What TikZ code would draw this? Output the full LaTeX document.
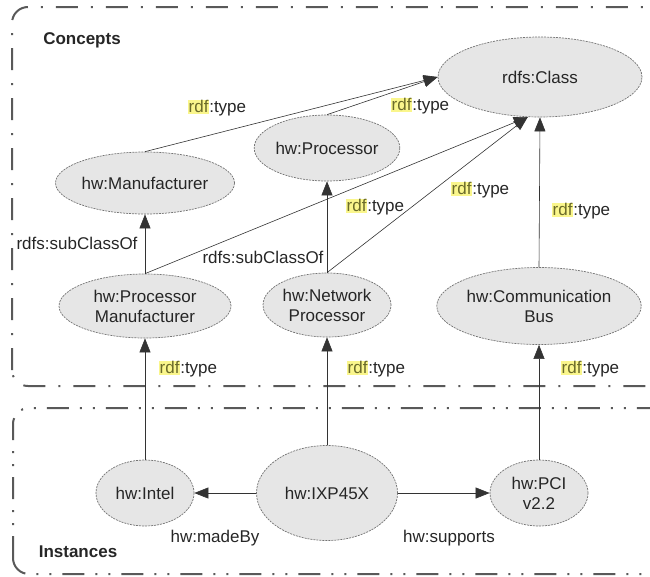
\documentclass[tikz,border=0pt]{standalone}
\usepackage{fontspec}
\setmainfont{Liberation Sans}
\usetikzlibrary{arrows.meta,shapes.geometric}

\definecolor{rdfhl}{HTML}{FAF68C}
\definecolor{rdftxt}{HTML}{6B6B2A}
\definecolor{nodefill}{HTML}{E6E6E6}
% highlighted namespace prefix
\newcommand{\rdfname}{{\setlength{\fboxsep}{0.8pt}\colorbox{rdfhl}{\textcolor{rdftxt}{rdf}}}}

\begin{document}
\begin{tikzpicture}[x=1pt, y=-1pt,
  every node/.style={font=\fontsize{17}{20}\selectfont, text=black!85},
  concept/.style={ellipse, draw=black!55, dash pattern=on 2pt off 1pt,
                  line width=0.7pt, fill=nodefill, inner sep=0pt, align=center},
  rel/.style={draw=black!80, line width=0.6pt, -{Triangle[length=14pt,width=11pt]}},
  lbl/.style={inner sep=0pt},
  boxline/.style={draw=black!65, line width=2pt, rounded corners=16pt}]
  \useasboundingbox (0,0) rectangle (650,576);

  % the two layers
  \draw[boxline, dash pattern=on 22pt off 13pt on 2pt off 13pt] (12,386) rectangle (668,7);
  \draw[boxline, dash pattern=on 22pt off 11pt on 2pt off 11pt on 2pt off 11pt] (13,574) rectangle (668,408);
  \node[font=\fontsize{17}{20}\selectfont\bfseries] (concepts) at (82,40) {Concepts};
  \node[font=\fontsize{17}{20}\selectfont\bfseries] (instances) at (78,552) {Instances};

  % classes
  \node[concept, minimum width=204pt, minimum height=80pt] (cls) at (540,77) {rdfs:Class};
  \node[concept, minimum width=140pt, minimum height=66pt] (proc) at (327,148) {hw:Processor};
  \node[concept, minimum width=174pt, minimum height=62pt] (man) at (145,183) {hw:Manufacturer};
  \node[concept, minimum width=172pt, minimum height=64pt] (pm) at (145,306) {hw:Processor\\Manufacturer};
  \node[concept, minimum width=128pt, minimum height=64pt] (np) at (327,305) {hw:Network\\Processor};
  \node[concept, minimum width=202pt, minimum height=77pt] (cb) at (539,306) {hw:Communication\\Bus};

  % individuals
  \node[concept, minimum width=98pt, minimum height=66pt] (intel) at (145,493) {hw:Intel};
  \node[concept, minimum width=141pt, minimum height=95pt] (ixp) at (327,493) {hw:IXP45X};
  \node[concept, minimum width=98pt, minimum height=66pt] (pci) at (539,493) {hw:PCI\\v2.2};

  % relations
  \draw[rel] (man.north) -- (cls.west);
  \draw[rel] (proc.north) -- (cls.west);
  \draw[rel] (pm.north) -- (cls.253);
  \draw[rel] (np.north) -- (cls.253);
  \draw[rel] (cb.north) -- (cls.south);
  \draw[rel] (pm.north) -- (man.south);
  \draw[rel] (np.north) -- (proc.south);
  \draw[rel] (intel.north) -- (pm.south);
  \draw[rel] (ixp.north) -- (np.south);
  \draw[rel] (pci.north) -- (cb.south);
  \draw[rel] (ixp.west) -- (intel.east);
  \draw[rel] (ixp.east) -- (pci.west);

  % edge labels
  \node[lbl] (t1) at (217,108) {\rdfname:type};
  \node[lbl] (t2) at (420,106) {\rdfname:type};
  \node[lbl] (t3) at (375,207) {\rdfname:type};
  \node[lbl] (t4) at (480,190) {\rdfname:type};
  \node[lbl] (t5) at (581,211) {\rdfname:type};
  \node[lbl] (t6) at (188,369) {\rdfname:type};
  \node[lbl] (t7) at (376,369) {\rdfname:type};
  \node[lbl] (t8) at (590,369) {\rdfname:type};
  \node[lbl] (s1) at (77,243) {rdfs:subClassOf};
  \node[lbl] (s2) at (263,257) {rdfs:subClassOf};
  \node[lbl] (madeby) at (215,538) {hw:madeBy};
  \node[lbl] (supports) at (449,538) {hw:supports};
\end{tikzpicture}
\end{document}
